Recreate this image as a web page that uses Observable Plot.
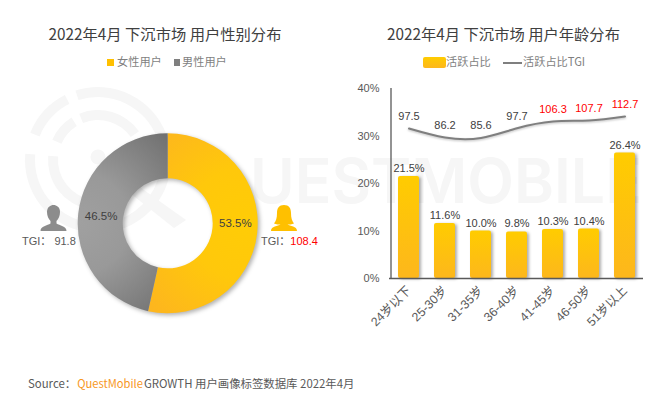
<!DOCTYPE html>
<html><head><meta charset="utf-8">
<script src="https://cdn.jsdelivr.net/npm/d3@7"></script>
<script src="https://cdn.jsdelivr.net/npm/@observablehq/plot@0.6"></script>
<style>
html,body{margin:0;padding:0;background:#fff}
#stage{position:relative;width:672px;height:401px;overflow:hidden;font-family:"Liberation Sans","Noto Sans CJK SC",sans-serif;background:#fff}
#stage>svg{position:absolute;top:0}
.t{position:absolute;white-space:nowrap;line-height:1}
.title{font-family:"Noto Sans CJK SC",sans-serif;font-size:15.3px;font-weight:400;color:#404040;transform:translateX(-50%);top:26px}
.leg{font-family:"Noto Sans CJK SC",sans-serif;font-size:11.2px;color:#7f7f7f;top:56px}
.sw{position:absolute}
.bars rect{filter:drop-shadow(2px 1px 1.5px rgba(0,0,0,.32))}
.tline path{filter:drop-shadow(0px 1px 1px rgba(0,0,0,.25))}
.tgi{font-size:11px;color:#595959;top:236px}
</style></head><body>
<div id="stage"></div>
<script>
const genders = ["女性用户", "男性用户"];
const genderShares = [53.5, 46.5];
const genderColors = ["url(#yellowRadial)", "url(#grayRadial)"];
const ages = ["24岁以下", "25-30岁", "31-35岁", "36-40岁", "41-45岁", "46-50岁", "51岁以上"];
const activeShares = [21.5, 11.6, 10.0, 9.8, 10.3, 10.4, 26.4];
const activeTgi = [97.5, 86.2, 85.6, 97.7, 106.3, 107.7, 112.7];

const stage = document.getElementById("stage");
const FONT = "'Liberation Sans','Noto Sans CJK SC',sans-serif";

// faint watermark behind the charts
const wm = d3.select(stage).append("svg").attr("width",672).attr("height",401).style("left","0");
const rad = d => d*Math.PI/180;
const wmArc = d3.arc();
const logo = wm.append("g").attr("transform","translate(98,160)").attr("fill","#f6f6f6");
[[63,73,-18,70],[63,73,-68,-27],[63,73,-170,-85],[40,50,-22,55],[40,50,-66,-32],[40,50,-170,-85],[63,73,-260,-190]].forEach(([i,o,a,b])=>{
  logo.append("path").attr("d",wmArc({innerRadius:i,outerRadius:o,startAngle:rad(a),endAngle:rad(b)}));
});
logo.append("circle").attr("cx",0).attr("cy",-3).attr("r",7.5);
logo.append("path").attr("d","M-2,6 L8,3 L88,60 L76,68 Z");
wm.append("text").text("UESTMOBILE").attr("x",250).attr("y",203)
  .attr("font-family","Inter,Lato,sans-serif").attr("font-weight",600).attr("font-size",62)
  .attr("fill","#f6f6f6").attr("textLength",392).attr("lengthAdjust","spacingAndGlyphs");

// left: donut
const pie = d3.pie().sort(null)(genderShares);
const slices = pie.map((p,i)=>({...p, gender:genders[i], share:genderShares[i], fill:genderColors[i]}));
const R = 90, r0 = 45;
const arcGen = d3.arc().innerRadius(r0).outerRadius(R);
const labelRows = slices.map((s,i)=>{const [cx,cy]=arcGen.centroid(s);return {x:cx,y:i===0?0:cy,share:s.share};});
const donutMark = (index, {x,y}) => {
  const g = d3.create("svg:g");
  const defs = g.append("defs");
  const rg=(id,cx,stops)=>{const e=defs.append("radialGradient").attr("id",id).attr("gradientUnits","userSpaceOnUse")
     .attr("cx",cx).attr("cy",0).attr("r",125);stops.forEach(([o,c])=>e.append("stop").attr("offset",o).attr("stop-color",c));};
  rg("yellowRadial",78,[[0,"#ffcc06"],[.45,"#ffc80b"],[1,"#fdb61e"]]);
  rg("grayRadial",-88,[[0,"#a0a0a0"],[.4,"#999999"],[1,"#707070"]]);
  const gg = g.append("g").attr("transform",`translate(${x(0)},${y(0)})`)
     .style("filter","drop-shadow(2px 2px 2px rgba(0,0,0,.3))");
  slices.forEach(s=>gg.append("path").attr("d",arcGen(s)).attr("fill",s.fill));
  return g.node();
};
const left = Plot.plot({
  width:336,height:401,margin:0,
  x:{domain:[-167.7,168.3],range:[0,336],axis:null},
  y:{domain:[-223.3,177.7],range:[0,401],axis:null},
  style:{background:"transparent",fontFamily:FONT},
  marks:[
    donutMark,
    Plot.text(labelRows,{x:"x",y:"y",text:d=>d.share.toFixed(1)+"%",fontSize:11.5,fill:"#404040"})
  ]
});
left.style.left="0";
stage.appendChild(left);

// right: bars and TGI line
const rows = ages.map((age,i)=>({age,share:activeShares[i],tgi:activeTgi[i]}));
const tgiToAxis = v => (v+92)/6;
const right = Plot.plot({
  width:336,height:401,
  marginLeft:53,marginRight:29,marginTop:88,marginBottom:123,
  x:{domain:ages,type:"band",paddingInner:.42,paddingOuter:.21,label:null},
  y:{domain:[0,40],label:null},
  style:{background:"transparent",fontFamily:FONT,overflow:"visible"},
  marks:[
    ()=>{const d=d3.create("svg:defs");const l=d.append("linearGradient").attr("id","barGrad").attr("x1",0).attr("x2",0).attr("y1",0).attr("y2",1);
      l.append("stop").attr("offset",0).attr("stop-color","#ffcc00");l.append("stop").attr("offset",1).attr("stop-color","#fdb71c");return d.node();},
    Plot.barY(rows,{x:"age",y:"share",fill:"url(#barGrad)",rx:2,className:"bars"}),
    Plot.line(rows,{x:"age",y:d=>tgiToAxis(d.tgi),stroke:"#7f7f7f",strokeWidth:2,curve:"natural",className:"tline"}),
    Plot.text(rows,{x:"age",y:"share",dy:-8,text:d=>d.share.toFixed(1)+"%",fontSize:11,fill:"#404040"}),
    Plot.text(rows,{filter:d=>d.tgi<=100,x:"age",y:d=>tgiToAxis(d.tgi),dy:-12,text:d=>d.tgi.toFixed(1),fontSize:11,fill:"#404040"}),
    Plot.text(rows,{filter:d=>d.tgi>100,x:"age",y:d=>tgiToAxis(d.tgi),dy:-12,text:d=>d.tgi.toFixed(1),fontSize:11,fill:"#ff0000"}),
    Plot.axisY({ticks:[0,10,20,30,40],tickFormat:d=>d+"%",tickSize:0,tickPadding:10,fontSize:11,color:"#595959",label:null}),
    Plot.axisX({tickRotate:-45,tickSize:0,tickPadding:10,dx:0,fontSize:12.3,color:"#595959",label:null}),
    Plot.ruleY([0],{stroke:"#595959",strokeWidth:1.3}),
    Plot.ruleX(rows.slice(0,1),{x:()=>ages[0],dx:-18,y1:0,y2:40,stroke:"#595959",strokeWidth:1.3})
  ]
});
right.style.left="336px";
stage.appendChild(right);

// html text
function add(cls,txt,css){const e=document.createElement("div");e.className=cls;if(txt)e.textContent=txt;Object.assign(e.style,css||{});stage.appendChild(e);return e;}
add("t title","2022年4月 下沉市场 用户性别分布",{left:"165px"});
add("t title","2022年4月 下沉市场 用户年龄分布",{left:"503.5px"});
add("sw","",{left:"107px",top:"59px",width:"7px",height:"7px",background:"#ffc000"});
add("t leg",genders[0],{left:"117px"});
add("sw","",{left:"174px",top:"59px",width:"6px",height:"7px",background:"#7f7f7f"});
add("t leg",genders[1],{left:"182px"});
add("sw","",{left:"423px",top:"57px",width:"23px",height:"11px",borderRadius:"2px",background:"linear-gradient(#ffcc00,#fdb71c)"});
add("t leg","活跃占比",{left:"446px"});
add("sw","",{left:"503px",top:"62px",width:"19px",height:"2px",background:"#7f7f7f"});
add("t leg","活跃占比TGI",{left:"523px"});

const tgiMale=add("t tgi","",{left:"22px"});tgiMale.innerHTML='TGI：&nbsp;91.8';
const tgiFemale=add("t tgi","",{left:"261px"});tgiFemale.innerHTML='TGI：<span style="color:#ff0000">108.4</span>';

const src=add("t","",{left:"28px",top:"378px",fontSize:"11.4px",color:"#595959",fontFamily:'"Noto Sans CJK SC",sans-serif'});
src.innerHTML='Source：<span style="color:#f7971d;font-size:11.2px;margin:0 1px 0 1px">QuestMobile</span>GROWTH 用户画像标签数据库 2022年4月';

// gender icons
const icons=d3.select(stage).append("svg").attr("width",672).attr("height",401).style("left","0").style("pointer-events","none");
icons.append("path").attr("transform","translate(53.5,205)").attr("fill","#8c8c8c")
 .attr("d","M-6.5,7 C-6.5,2 -3,0 0,0 C3,0 6.5,2 6.5,7 C6.5,11 5,14 3,16 L3,18.5 C6,20.5 13,21 13,26 L-13,26 C-13,21 -6,20.5 -3,18.5 L-3,16 C-5,14 -6.5,11 -6.5,7Z");
icons.append("path").attr("transform","translate(284,205)").attr("fill","#ffc000")
 .attr("d","M0,0 C5,0 7,3 7,8 C7,13 8,16 10,18.5 C8,19.5 5,19.5 3.5,19.5 C6,21 13,21 13,26 L-13,26 C-13,21 -6,21 -3.5,19.5 C-5,19.5 -8,19.5 -10,18.5 C-8,16 -7,13 -7,8 C-7,3 -5,0 0,0Z");
</script>
</body></html>
